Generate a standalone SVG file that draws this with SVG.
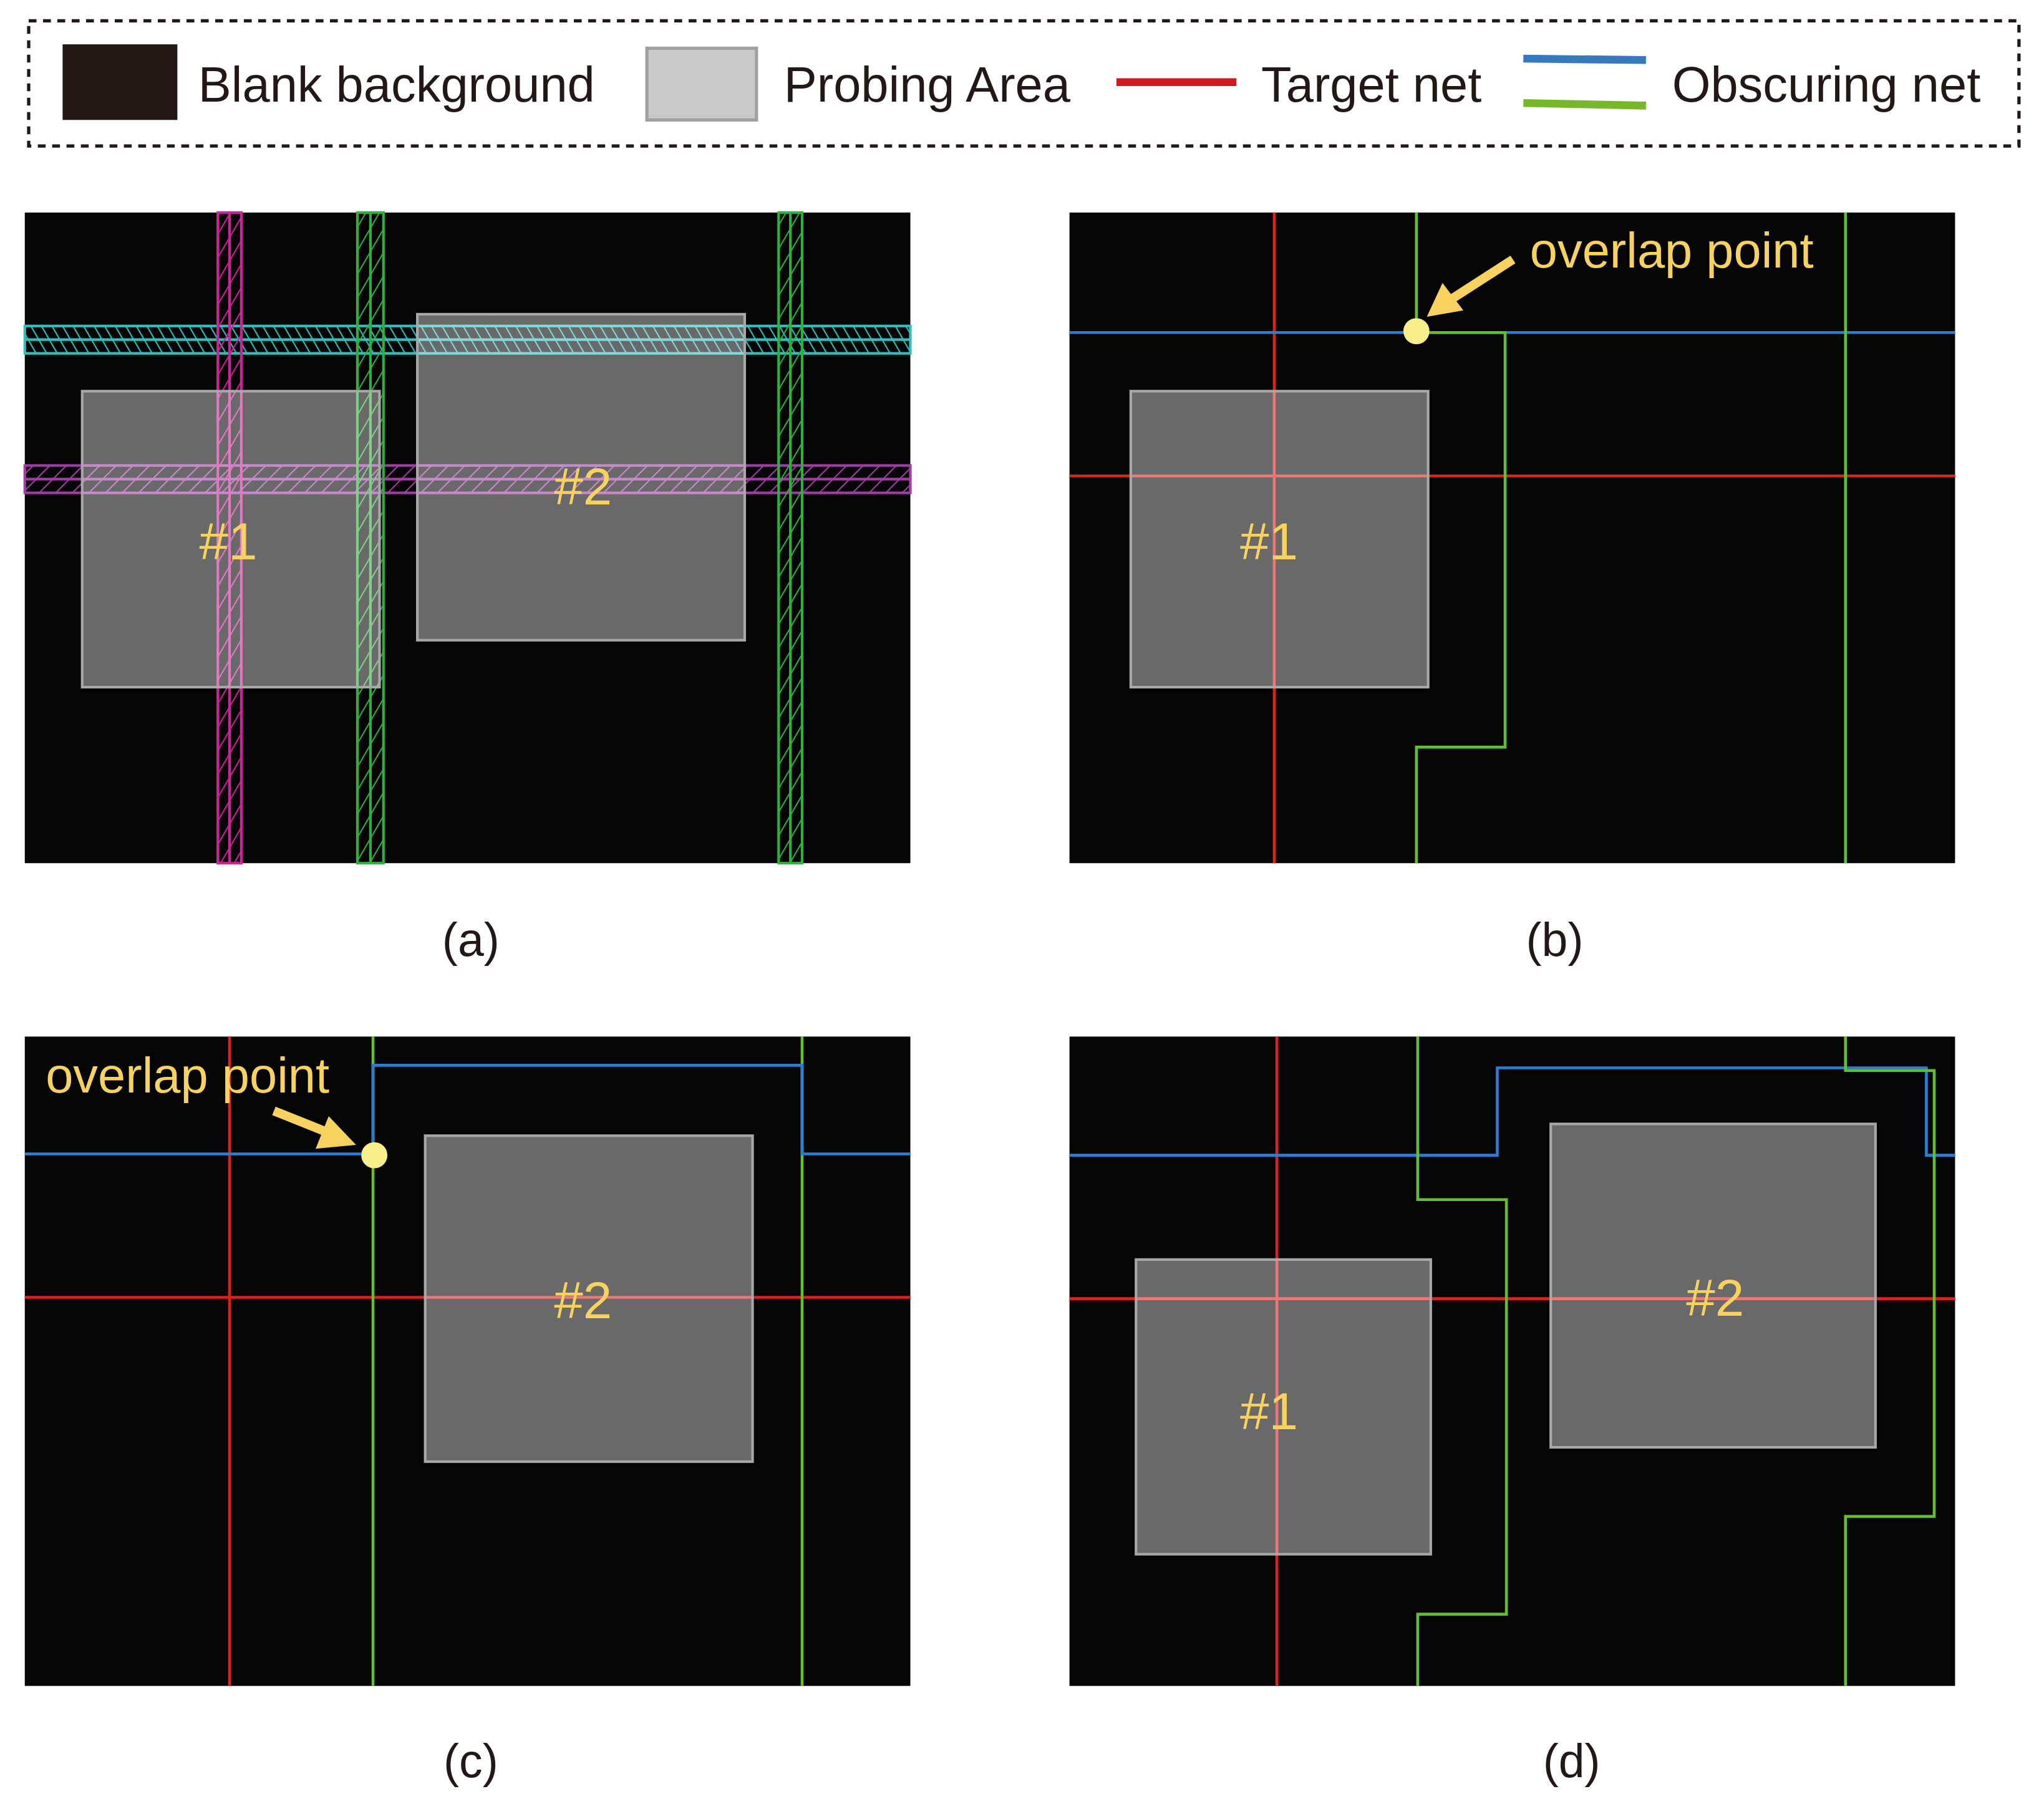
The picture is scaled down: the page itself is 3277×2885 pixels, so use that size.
<svg xmlns="http://www.w3.org/2000/svg" width="3277" height="2885" viewBox="0 0 3277 2885">
<style>
.t{font-family:"Liberation Sans",Arial,sans-serif;fill:#231815;font-size:38px}
.cap{font-family:"Liberation Sans",Arial,sans-serif;fill:#231815;font-size:36px;text-anchor:middle}
.lab{font-family:"Liberation Sans",Arial,sans-serif;fill:#f7d25e;font-size:40px;text-anchor:middle}
.ov{font-family:"Liberation Sans",Arial,sans-serif;fill:#f7d25e;font-size:38px}
.bg{fill:#050505}
.pa{fill:#fff;fill-opacity:0.4;stroke:#a8a8a8;stroke-width:2}
.r{stroke:#e0201c;stroke-width:2.2;fill:none}
.b{stroke:#2f7dd0;stroke-width:2.2;fill:none}
.g{stroke:#62c030;stroke-width:2.2;fill:none}
</style>
<defs>
<pattern id="hm" patternUnits="userSpaceOnUse" width="9" height="9" patternTransform="rotate(30)"><line x1="0" y1="0" x2="0" y2="9" stroke="#d0209a" stroke-width="2"/></pattern>
<pattern id="hg" patternUnits="userSpaceOnUse" width="9" height="9" patternTransform="rotate(30)"><line x1="0" y1="0" x2="0" y2="9" stroke="#2fb040" stroke-width="2"/></pattern>
<pattern id="hc" patternUnits="userSpaceOnUse" width="7" height="7" patternTransform="rotate(-30)"><line x1="0" y1="0" x2="0" y2="7" stroke="#30c0c0" stroke-width="2"/></pattern>
<pattern id="hp" patternUnits="userSpaceOnUse" width="9" height="9" patternTransform="rotate(45)"><line x1="0" y1="0" x2="0" y2="9" stroke="#a43ca8" stroke-width="2"/></pattern>
</defs>
<rect width="3277" height="2885" fill="#fff"/>
<g transform="scale(2.091)">
<g id="legend">
<rect x="22" y="16" width="1526" height="96" fill="none" stroke="#231815" stroke-width="2.5" stroke-dasharray="6,5"/>
<rect x="48" y="34" width="88" height="58" fill="#231815"/>
<text class="t" x="152" y="78">Blank background</text>
<rect x="496" y="37" width="84" height="55" fill="#c9c9c9" stroke="#a0a0a0" stroke-width="2.5"/>
<text class="t" x="601" y="78">Probing Area</text>
<line x1="856" y1="63" x2="948" y2="63" stroke="#cc1a20" stroke-width="6"/>
<text class="t" x="967" y="78">Target net</text>
<line x1="1168" y1="45" x2="1262" y2="46" stroke="#3579c0" stroke-width="6"/>
<line x1="1168" y1="79" x2="1262" y2="81" stroke="#76b82a" stroke-width="6"/>
<text class="t" x="1282" y="78">Obscuring net</text>
</g>
<g id="panel-a">
<rect class="bg" x="19" y="163" width="679" height="499"/>
<g stroke-width="2">
<rect x="19" y="250" width="679" height="21" fill="url(#hc)" stroke="#30c0c0"/>
<line x1="19" y1="260.5" x2="698" y2="260.5" stroke="#30c0c0"/>
<rect x="19" y="357" width="679" height="21" fill="url(#hp)" stroke="#a43ca8"/>
<line x1="19" y1="367.5" x2="698" y2="367.5" stroke="#a43ca8"/>
<rect x="167" y="163" width="18" height="499" fill="url(#hm)" stroke="#d0209a"/>
<line x1="176" y1="163" x2="176" y2="662" stroke="#d0209a"/>
<rect x="274" y="163" width="20" height="499" fill="url(#hg)" stroke="#2fb040"/>
<line x1="284" y1="163" x2="284" y2="662" stroke="#2fb040"/>
<rect x="597" y="163" width="18" height="499" fill="url(#hg)" stroke="#2fb040"/>
<line x1="606" y1="163" x2="606" y2="662" stroke="#2fb040"/>
</g>
<rect class="pa" x="63" y="300" width="228" height="227"/>
<rect class="pa" x="320" y="241" width="251" height="250"/>
<text class="lab" x="175" y="429">#1</text>
<text class="lab" x="447" y="387">#2</text>
<text class="cap" x="361" y="733">(a)</text>
</g>
<g id="panel-b">
<rect class="bg" x="820" y="163" width="679" height="499"/>
<line class="r" x1="977" y1="163" x2="977" y2="662"/>
<line class="r" x1="820" y1="365" x2="1499" y2="365"/>
<line class="b" x1="820" y1="255" x2="1499" y2="255"/>
<path class="g" d="M1086 163V255H1154V573H1086V662"/>
<line class="g" x1="1415" y1="163" x2="1415" y2="662"/>
<rect class="pa" x="867" y="300" width="228" height="227"/>
<text class="lab" x="973" y="429">#1</text>
<circle cx="1086" cy="254" r="10" fill="#f8ef8a"/>
<line x1="1160" y1="199" x2="1112" y2="230" stroke="#f7d25e" stroke-width="7"/>
<polygon points="1094,243 1106,217 1122,238" fill="#f7d25e"/>
<text class="ov" x="1173" y="205">overlap point</text>
<text class="cap" x="1192" y="733">(b)</text>
</g>
<g id="panel-c">
<rect class="bg" x="19" y="795" width="679" height="498"/>
<line class="r" x1="176" y1="795" x2="176" y2="1293"/>
<line class="r" x1="19" y1="995" x2="698" y2="995"/>
<line class="g" x1="286" y1="795" x2="286" y2="1293"/>
<line class="g" x1="615" y1="795" x2="615" y2="1293"/>
<path class="b" d="M19 885H286V817H615V885H698"/>
<rect class="pa" x="326" y="871" width="251" height="250"/>
<text class="lab" x="447" y="1011">#2</text>
<circle cx="287" cy="886" r="10" fill="#f8ef8a"/>
<line x1="210" y1="852" x2="250" y2="868" stroke="#f7d25e" stroke-width="7"/>
<polygon points="273,878 242,881 252,856" fill="#f7d25e"/>
<text class="ov" x="35" y="838">overlap point</text>
<text class="cap" x="361" y="1363">(c)</text>
</g>
<g id="panel-d">
<rect class="bg" x="820" y="795" width="679" height="498"/>
<line class="r" x1="979" y1="795" x2="979" y2="1293"/>
<line class="r" x1="820" y1="996" x2="1499" y2="996"/>
<path class="b" d="M820 886H1148V819H1477V886H1499"/>
<path class="g" d="M1087 795V920H1155V1238H1087V1293"/>
<path class="g" d="M1415 795V821H1483V1163H1415V1293"/>
<rect class="pa" x="871" y="966" width="226" height="226"/>
<rect class="pa" x="1189" y="862" width="249" height="248"/>
<text class="lab" x="973" y="1096">#1</text>
<text class="lab" x="1315" y="1009">#2</text>
<text class="cap" x="1205" y="1363">(d)</text>
</g>
</g>
</svg>
